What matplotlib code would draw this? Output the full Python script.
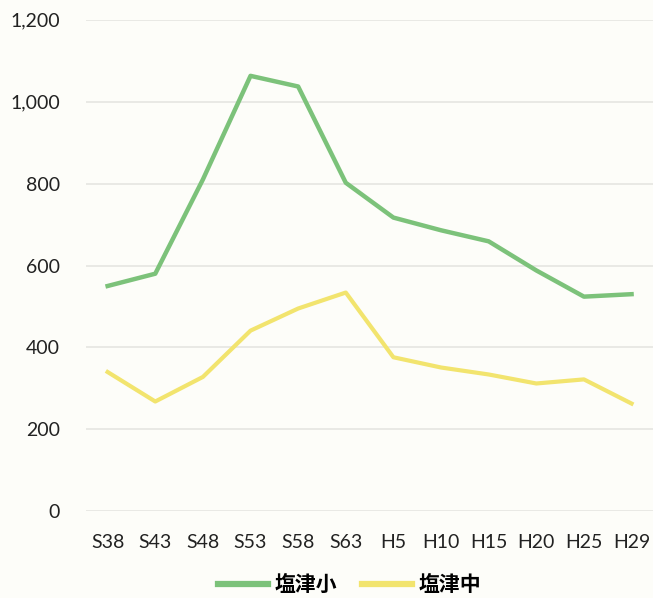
import matplotlib
matplotlib.use("Agg")
import matplotlib.pyplot as plt
from matplotlib.ticker import FuncFormatter, MultipleLocator

plt.rcParams["font.family"] = ["Lato", "Noto Sans CJK JP", "DejaVu Sans"]

# Student counts
periods = ["S38", "S43", "S48", "S53", "S58", "S63",
           "H5", "H10", "H15", "H20", "H25", "H29"]
shiotsu_elem = [550, 580, 810, 1063, 1037, 802, 717, 686, 659, 588, 524, 530]
shiotsu_junior = [340, 268, 328, 441, 495, 534, 376, 351, 334, 312, 322, 263]
series_names = ["塩津小", "塩津中"]

green = "#7cc27a"
yellow = "#f2e46e"

fig = plt.figure(figsize=(6.53, 5.98), dpi=100)
fig.patch.set_facecolor("#fdfdf9")
ax = fig.add_axes([0.132, 0.145, 0.868, 0.822])
ax.set_facecolor("#fdfdf9")

x = range(len(periods))
ax.plot(x, shiotsu_elem, color=green, linewidth=3.2, label=series_names[0],
        solid_joinstyle="round")
ax.plot(x, shiotsu_junior, color=yellow, linewidth=3.0, label=series_names[1],
        solid_joinstyle="round")

ax.set_xlim(-0.45, len(periods) - 0.55)
ax.set_ylim(0, 1200)
ax.yaxis.set_major_locator(MultipleLocator(200))
ax.yaxis.set_major_formatter(FuncFormatter(lambda v, _: f"{int(v):,}"))
ax.set_xticks(list(x))
ax.set_xticklabels(periods)

ax.grid(axis="y", color="#e6e6e2", linewidth=1.2)
ax.set_axisbelow(True)
for side in ax.spines.values():
    side.set_visible(False)
ax.tick_params(axis="both", length=0, labelsize=14, colors="#222222")
ax.tick_params(axis="y", pad=19)
ax.tick_params(axis="x", pad=16)

leg = fig.legend(loc="lower center", bbox_to_anchor=(0.535, -0.026), ncol=2,
                 frameon=False, handlelength=2.4, columnspacing=1.2,
                 handletextpad=0.3,
                 prop={"family": ["Noto Sans CJK JP"], "size": 15, "weight": "bold"})
for line in leg.get_lines():
    line.set_linewidth(4.5)

fig.savefig("out.png", dpi=100, facecolor=fig.get_facecolor())
